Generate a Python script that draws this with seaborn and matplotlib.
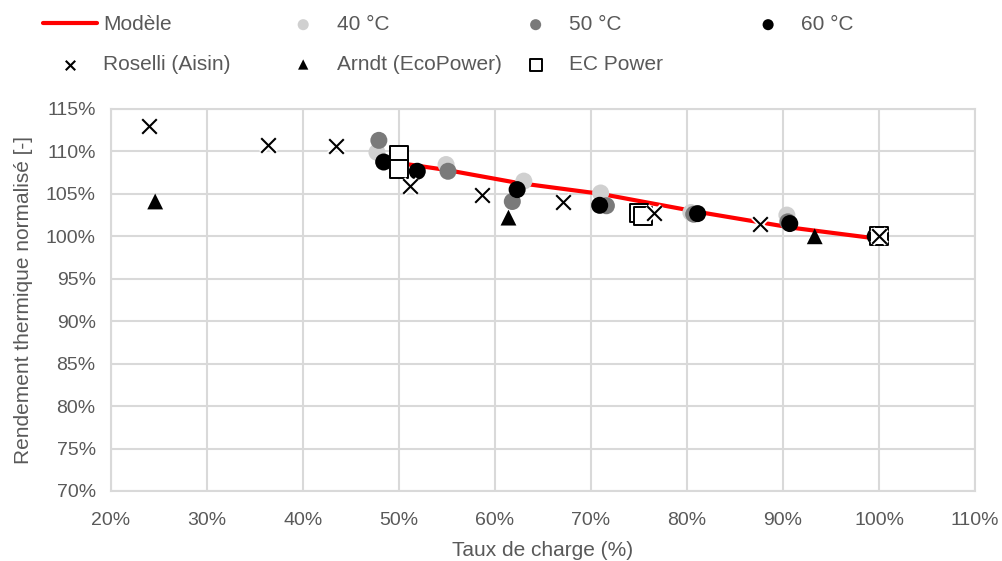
import matplotlib
matplotlib.use("Agg")
import matplotlib.pyplot as plt
from matplotlib.ticker import PercentFormatter
import seaborn as sns
import pandas as pd

# --- données ---
modele_x = [48.4, 55.0, 62.3, 71.0, 81.0, 91.0, 100.0]
modele_y = [108.9, 107.8, 106.3, 105.0, 102.9, 101.0, 99.7]

t40_x = [47.7, 54.9, 63.0, 71.0, 80.4, 90.4, 100.0]
t40_y = [109.9, 108.45, 106.5, 105.1, 102.8, 102.5, 100.0]
t50_x = [47.9, 55.1, 61.8, 71.6, 80.7, 90.5, 100.0]
t50_y = [111.3, 107.66, 104.1, 103.6, 102.6, 101.7, 100.0]
t60_x = [48.4, 51.9, 62.3, 70.9, 81.1, 90.7, 99.6]
t60_y = [108.75, 107.66, 105.5, 103.65, 102.67, 101.5, 100.0]

roselli_x = [24.0, 36.35, 43.4, 51.1, 58.6, 67.1, 76.6, 87.6, 100.0]
roselli_y = [113.0, 110.7, 110.6, 105.9, 104.9, 104.0, 102.7, 101.4, 100.0]
arndt_x = [24.6, 61.4, 93.3]
arndt_y = [104.1, 102.2, 100.0]
ecpower_x = [50.0, 50.0, 75.0, 75.4, 100.0]
ecpower_y = [109.6, 107.95, 102.7, 102.4, 100.0]

x_ticks = [20, 30, 40, 50, 60, 70, 80, 90, 100, 110]
y_ticks = [70, 75, 80, 85, 90, 95, 100, 105, 110, 115]

sns.set_theme(style="whitegrid")
plt.rcParams['font.family'] = ['Liberation Sans', 'DejaVu Sans']
gris_txt = "#595959"
gris_grille = "#d9d9d9"

fig = plt.figure(figsize=(10.02, 5.61), dpi=100)
ax = fig.add_axes([0.1108, 0.1248, 0.8623, 0.681])

df_mod = pd.DataFrame({"x": modele_x, "y": modele_y})
sns.lineplot(data=df_mod, x="x", y="y", ax=ax, color="#ff0000", linewidth=3,
             label="Modèle", zorder=2)

for xs, ys, col, lab in [(t40_x, t40_y, "#d0d0d0", "40 °C"),
                         (t50_x, t50_y, "#7a7a7a", "50 °C"),
                         (t60_x, t60_y, "#000000", "60 °C")]:
    d = pd.DataFrame({"x": xs, "y": ys})
    sns.scatterplot(data=d, x="x", y="y", ax=ax, color=col, s=150,
                    edgecolor="none", label=lab, zorder=3)

df_ec = pd.DataFrame({"x": ecpower_x, "y": ecpower_y})
sns.scatterplot(data=df_ec, x="x", y="y", ax=ax, marker="s", s=150,
                facecolor="white", edgecolor="black", linewidth=1.4,
                label="EC Power", zorder=4)

df_ro = pd.DataFrame({"x": roselli_x, "y": roselli_y})
# fond blanc sous les croix (coupe la ligne comme dans Excel)
ax.scatter(df_ro["x"], df_ro["y"], marker="x", s=110, color="white",
           linewidths=4, zorder=4)
sns.scatterplot(data=df_ro, x="x", y="y", ax=ax, marker="x", s=110,
                color="black", linewidth=1.5, label="Roselli (Aisin)", zorder=5)

df_ar = pd.DataFrame({"x": arndt_x, "y": arndt_y})
sns.scatterplot(data=df_ar, x="x", y="y", ax=ax, marker="^", s=130,
                color="black", edgecolor="none", label="Arndt (EcoPower)", zorder=5)

ax.set_xlim(20, 110)
ax.set_ylim(70, 115)
ax.set_xticks(x_ticks)
ax.set_yticks(y_ticks)
ax.xaxis.set_major_formatter(PercentFormatter(decimals=0))
ax.yaxis.set_major_formatter(PercentFormatter(decimals=0))
ax.grid(True, color=gris_grille, linewidth=1.5)
for sp in ax.spines.values():
    sp.set_color(gris_grille)
    sp.set_linewidth(1.5)
ax.tick_params(axis="both", length=0, labelsize=14, labelcolor=gris_txt)
ax.tick_params(axis="x", pad=15)
ax.tick_params(axis="y", pad=11)
ax.set_xlabel("Taux de charge (%)", fontsize=15, color=gris_txt, labelpad=9)
ax.set_ylabel("Rendement thermique normalisé [-]", fontsize=15, color=gris_txt, labelpad=9)

# légende en colonnes à largeur fixe, comme Excel
handles, labels = ax.get_legend_handles_labels()
ax.get_legend().remove()
hd = dict(zip(labels, handles))
colonnes = [["Modèle", "Roselli (Aisin)"], ["40 °C", "Arndt (EcoPower)"],
            ["50 °C", "EC Power"], ["60 °C"]]
x_pos = [0.028, 0.261, 0.493, 0.725]
for cols, xp in zip(colonnes, x_pos):
    fig.legend([hd[c] for c in cols], cols, loc="upper left",
               bbox_to_anchor=(xp, 0.999), frameon=False, fontsize=15,
               labelcolor=gris_txt, handlelength=2.6, handletextpad=0.3,
               labelspacing=1.0, markerscale=0.65, borderaxespad=0.3)

fig.savefig("out.png", dpi=100)
